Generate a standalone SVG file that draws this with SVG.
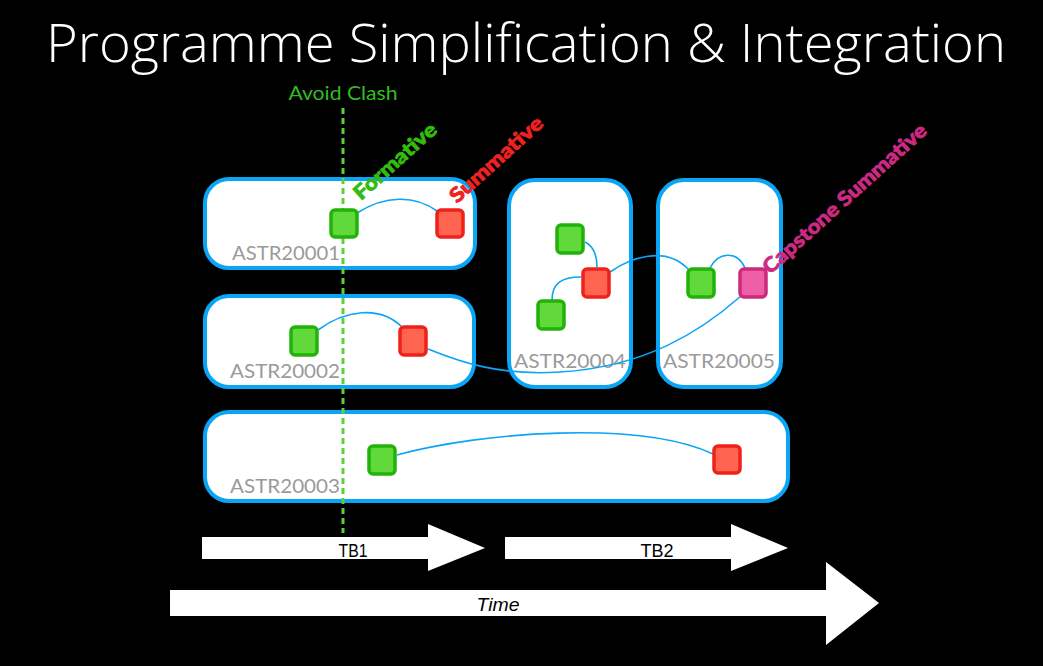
<svg xmlns="http://www.w3.org/2000/svg" width="1043" height="666" viewBox="0 0 1043 666">
<style>
.box{fill:#fff;stroke:#0aa5f5;stroke-width:4}
.g{fill:#62d93a;stroke:#22b20a;stroke-width:3.5}
.r{fill:#ff6450;stroke:#ee2218;stroke-width:3.5}
.p{fill:#ef5fa8;stroke:#cc2a7a;stroke-width:3.5}
.mod{font-family:Lato,"Liberation Sans",sans-serif;font-size:19px;fill:#9a9a9a}
.con{fill:none;stroke:#0aa5f5;stroke-width:1.6}
.lbl{font-family:Lato,"Liberation Sans",sans-serif;font-size:20px;font-weight:900;stroke-width:0.8}
.arr{fill:#fff}
.at{font-family:"Liberation Sans",Arial,sans-serif;font-size:18px;fill:#000;text-anchor:middle}
</style>
<rect x="0" y="0" width="1043" height="666" fill="#000"/>
<text x="526" y="62" text-anchor="middle" font-family="'Open Sans','Noto Sans',sans-serif" font-weight="300" font-size="54" fill="#fff" textLength="960" lengthAdjust="spacingAndGlyphs">Programme Simplification &amp; Integration</text>

<g id="mod-astr20001"><rect class="box" x="205" y="179" width="270" height="89" rx="24"/><text class="mod" x="232" y="260" textLength="108" lengthAdjust="spacingAndGlyphs">ASTR20001</text></g>
<g id="mod-astr20002"><rect class="box" x="205" y="296" width="269" height="91" rx="24"/><text class="mod" x="230" y="378" textLength="110" lengthAdjust="spacingAndGlyphs">ASTR20002</text></g>
<g id="mod-astr20003"><rect class="box" x="205" y="412" width="583" height="89" rx="24"/><text class="mod" x="230" y="493" textLength="110" lengthAdjust="spacingAndGlyphs">ASTR20003</text></g>
<g id="mod-astr20004"><rect class="box" x="509" y="180" width="122" height="207" rx="26"/><text class="mod" x="514" y="368" textLength="112" lengthAdjust="spacingAndGlyphs">ASTR20004</text></g>
<g id="mod-astr20005"><rect class="box" x="658" y="180" width="123" height="207" rx="26"/><text class="mod" x="663" y="368" textLength="112" lengthAdjust="spacingAndGlyphs">ASTR20005</text></g>

<g id="avoid-clash">
<line x1="343" y1="108" x2="343" y2="533" stroke="#5cd03a" stroke-width="3" stroke-dasharray="6 4"/>
<text x="343" y="100" text-anchor="middle" font-family="Lato,'Liberation Sans',sans-serif" font-size="19" fill="#33bb22" textLength="109" lengthAdjust="spacingAndGlyphs">Avoid Clash</text>
</g>

<g id="connectors">
<path class="con" d="M357,213 C385,195 415,195 437,211"/>
<path class="con" d="M318,330 C345,310 380,305 402,327"/>
<path class="con" d="M428,349 C460,362 500,376 560,372 C645,367 700,332 741,296"/>
<path class="con" d="M397,455 C480,432 640,420 713,454"/>
<path class="con" d="M585,242 C593,246 597,255 597,267"/>
<path class="con" d="M552,300 C552,283 562,277 581,277"/>
<path class="con" d="M610,272 C630,258 665,245 688,269"/>
<path class="con" d="M710,268 C718,252 737,250 745,268"/>
</g>

<g id="n-g1"><rect class="g" x="331" y="210" width="26" height="27" rx="4"/></g>
<g id="n-r1"><rect class="r" x="437" y="210" width="26" height="27" rx="4"/></g>
<g id="n-g2"><rect class="g" x="291" y="327" width="26" height="28" rx="4"/></g>
<g id="n-r2"><rect class="r" x="400" y="327" width="26" height="28" rx="4"/></g>
<g id="n-g3"><rect class="g" x="369" y="446" width="26" height="28" rx="4"/></g>
<g id="n-r3"><rect class="r" x="714" y="446" width="26" height="27" rx="4"/></g>
<g id="n-g4a"><rect class="g" x="557" y="225" width="26" height="28" rx="4"/></g>
<g id="n-r4"><rect class="r" x="583" y="269" width="26" height="28" rx="4"/></g>
<g id="n-g4b"><rect class="g" x="538" y="301" width="26" height="28" rx="4"/></g>
<g id="n-g5"><rect class="g" x="688" y="269" width="26" height="28" rx="4"/></g>
<g id="n-p5"><rect class="p" x="740" y="269" width="26" height="28" rx="4"/></g>

<g id="labels">
<text class="lbl" fill="#33bb11" stroke="#33bb11" transform="translate(361,201) rotate(-42)" textLength="104" lengthAdjust="spacingAndGlyphs">Formative</text>
<text class="lbl" fill="#ee2222" stroke="#ee2222" transform="translate(457,204) rotate(-42)" textLength="118" lengthAdjust="spacingAndGlyphs">Summative</text>
<text class="lbl" fill="#cc2a82" stroke="#cc2a82" transform="translate(770,275) rotate(-42)" textLength="213" lengthAdjust="spacingAndGlyphs">Capstone Summative</text>
</g>

<g id="tb1"><polygon class="arr" points="202,537 428,537 428,524 485,548 428,571 428,559 202,559"/><text class="at" x="353" y="557" textLength="29" lengthAdjust="spacingAndGlyphs">TB1</text></g>
<g id="tb2"><polygon class="arr" points="505,537 731,537 731,524 788,548 731,571 731,559 505,559"/><text class="at" x="657" y="557" textLength="33" lengthAdjust="spacingAndGlyphs">TB2</text></g>
<g id="time"><polygon class="arr" points="170,590 826,590 826,562 879,603 826,645 826,616 170,616"/><text class="at" x="498" y="611" font-style="italic" font-size="19" textLength="43" lengthAdjust="spacingAndGlyphs">Time</text></g>
</svg>
